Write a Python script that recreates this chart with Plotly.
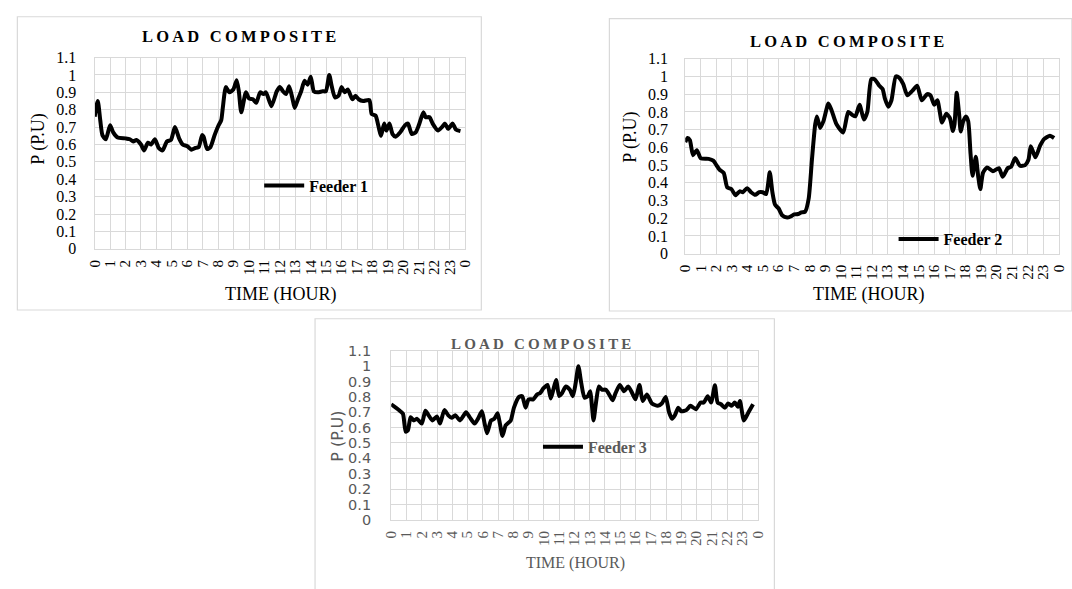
import plotly.graph_objects as go

# ---------------- data ----------------
hour_ticks = list(range(25))
hour_labels = [str(h) for h in range(24)] + ["0"]
p_ticks = [round(0.1 * i, 1) for i in range(12)]
p_labels = ["0", "0.1", "0.2", "0.3", "0.4", "0.5", "0.6", "0.7", "0.8", "0.9", "1", "1.1"]

f1_t = [0.0, 0.2, 0.36, 0.5, 0.72, 1.0, 1.2, 1.49, 2.0, 2.28, 2.5, 2.7, 3.0, 3.2, 3.45, 3.66,
        3.9, 4.15, 4.4, 4.68, 4.94, 5.2, 5.47, 5.7, 6.0, 6.26, 6.53, 6.74, 6.96, 7.06, 7.28,
        7.5, 7.77, 8.0, 8.2, 8.3, 8.5, 8.72, 8.98, 9.2, 9.34, 9.5, 9.8, 10.0, 10.25, 10.47,
        10.72, 10.94, 11.1, 11.45, 11.8, 12.0, 12.2, 12.4, 12.6, 12.8, 12.96, 13.17, 13.38,
        13.6, 13.8, 14.0, 14.2, 14.45, 14.77, 14.98, 15.2, 15.36, 15.57, 15.8, 16.0, 16.2,
        16.4, 16.7, 16.9, 17.1, 17.4, 17.8, 17.95, 18.2, 18.4, 18.55, 18.76, 18.9, 19.1, 19.3,
        19.5, 19.8, 20.1, 20.3, 20.55, 20.8, 21.0, 21.3, 21.45, 21.7, 21.9, 22.25, 22.5, 22.7,
        22.9, 23.2, 23.4, 23.7]
f1_p = [0.76, 0.85, 0.74, 0.654, 0.63, 0.71, 0.67, 0.64, 0.635, 0.63, 0.617, 0.626, 0.60, 0.566,
        0.61, 0.60, 0.63, 0.58, 0.566, 0.617, 0.626, 0.70, 0.635, 0.60, 0.59, 0.57, 0.58, 0.585,
        0.654, 0.645, 0.574, 0.585, 0.654, 0.705, 0.74, 0.81, 0.93, 0.90, 0.916, 0.97, 0.906,
        0.785, 0.90, 0.865, 0.86, 0.84, 0.90, 0.89, 0.90, 0.82, 0.906, 0.93, 0.906, 0.89, 0.935,
        0.87, 0.81, 0.86, 0.906, 0.966, 0.944, 0.99, 0.906, 0.90, 0.906, 0.906, 1.0, 0.935, 0.87,
        0.88, 0.93, 0.90, 0.916, 0.86, 0.88, 0.86, 0.85, 0.855, 0.775, 0.766, 0.70, 0.65, 0.72,
        0.68, 0.72, 0.66, 0.645, 0.67, 0.71, 0.72, 0.66, 0.67, 0.71, 0.785, 0.757, 0.757, 0.72,
        0.68, 0.70, 0.72, 0.69, 0.72, 0.686, 0.677]

f2_t = [0.0, 0.15, 0.3, 0.5, 0.74, 1.0, 1.5, 1.8, 2.0, 2.2, 2.47, 2.7, 2.96, 3.23, 3.5, 3.7,
        3.97, 4.23, 4.5, 4.75, 4.97, 5.2, 5.43, 5.6, 5.77, 6.0, 6.24, 6.55, 6.77, 7.0, 7.25,
        7.46, 7.7, 7.93, 8.14, 8.35, 8.46, 8.67, 8.88, 9.2, 9.4, 9.72, 10.15, 10.47, 10.72,
        10.93, 11.2, 11.48, 11.7, 11.95, 12.16, 12.47, 12.68, 12.83, 13.04, 13.25, 13.53,
        13.74, 14.0, 14.27, 14.6, 14.9, 15.2, 15.54, 15.75, 16.0, 16.2, 16.5, 16.77, 17.0,
        17.2, 17.3, 17.44, 17.6, 17.7, 17.86, 18.03, 18.18, 18.33, 18.46, 18.67, 18.82, 18.96,
        19.13, 19.39, 19.77, 20.15, 20.4, 20.72, 20.93, 21.2, 21.5, 21.84, 22.05, 22.2, 22.5,
        22.8, 23.07, 23.43, 23.7]
f2_p = [0.63, 0.653, 0.64, 0.556, 0.584, 0.538, 0.535, 0.525, 0.50, 0.474, 0.456, 0.374, 0.365,
        0.33, 0.352, 0.347, 0.37, 0.347, 0.332, 0.347, 0.347, 0.337, 0.46, 0.347, 0.277, 0.255,
        0.215, 0.204, 0.21, 0.222, 0.224, 0.233, 0.237, 0.31, 0.53, 0.73, 0.775, 0.71, 0.748,
        0.848, 0.81, 0.73, 0.684, 0.80, 0.784, 0.775, 0.84, 0.757, 0.80, 0.985, 0.985, 0.948,
        0.93, 0.875, 0.83, 0.866, 1.0, 0.994, 0.958, 0.894, 0.92, 0.948, 0.866, 0.90, 0.894,
        0.84, 0.866, 0.74, 0.79, 0.766, 0.693, 0.73, 0.908, 0.784, 0.69, 0.748, 0.775, 0.748,
        0.565, 0.44, 0.547, 0.438, 0.365, 0.456, 0.487, 0.465, 0.483, 0.434, 0.483, 0.49, 0.54,
        0.496, 0.50, 0.53, 0.606, 0.544, 0.61, 0.648, 0.666, 0.653]

f3_t = [0.0, 0.3, 0.56, 0.77, 0.95, 1.1, 1.27, 1.48, 1.7, 2.0, 2.24, 2.45, 2.7, 2.99, 3.2, 3.48,
        3.74, 3.96, 4.2, 4.5, 4.7, 4.9, 5.14, 5.46, 5.68, 5.94, 6.1, 6.28, 6.54, 6.75, 6.97,
        7.12, 7.29, 7.5, 7.83, 8.04, 8.37, 8.58, 8.8, 9.0, 9.3, 9.55, 9.76, 9.98, 10.24, 10.45,
        10.62, 10.8, 11.0, 11.16, 11.44, 11.7, 11.9, 12.08, 12.26, 12.45, 12.66, 12.88, 13.03,
        13.25, 13.4, 13.6, 13.8, 14.06, 14.28, 14.5, 14.7, 14.97, 15.25, 15.52, 15.78, 16.0,
        16.26, 16.47, 16.75, 17.08, 17.46, 17.72, 17.98, 18.2, 18.4, 18.58, 18.8, 19.0, 19.33,
        19.6, 19.96, 20.26, 20.47, 20.73, 20.95, 21.2, 21.38, 21.6, 21.85, 22.07, 22.3, 22.5,
        22.7, 22.84, 23.1, 23.4, 23.7]
f3_p = [0.752, 0.73, 0.71, 0.69, 0.573, 0.584, 0.668, 0.647, 0.657, 0.626, 0.71, 0.68, 0.647,
        0.672, 0.626, 0.714, 0.68, 0.664, 0.68, 0.647, 0.672, 0.70, 0.668, 0.626, 0.657, 0.706,
        0.636, 0.563, 0.647, 0.657, 0.693, 0.626, 0.546, 0.615, 0.647, 0.73, 0.80, 0.805, 0.73,
        0.784, 0.784, 0.815, 0.826, 0.857, 0.878, 0.79, 0.847, 0.91, 0.805, 0.82, 0.868, 0.847,
        0.805, 0.889, 1.0, 0.889, 0.795, 0.805, 0.837, 0.647, 0.752, 0.868, 0.847, 0.847, 0.815,
        0.778, 0.826, 0.878, 0.837, 0.868, 0.826, 0.784, 0.878, 0.773, 0.815, 0.757, 0.742,
        0.757, 0.80, 0.70, 0.657, 0.68, 0.73, 0.706, 0.714, 0.742, 0.72, 0.763, 0.763, 0.805,
        0.763, 0.875, 0.763, 0.752, 0.73, 0.757, 0.742, 0.763, 0.736, 0.773, 0.647, 0.70, 0.752]

series_names = ["Feeder 1", "Feeder 2", "Feeder 3"]
chart_title = "LOAD COMPOSITE"
x_title = "TIME (HOUR)"
y_title = "P (P.U)"

# ---------------- layout helpers ----------------
W, H = 1072, 589


def px(x):
    return x / W


def py(y):
    return 1 - y / H


SERIF = "Liberation Serif, Times New Roman, serif"
SANS = "DejaVu Sans, Liberation Sans, Arial, sans-serif"
GRID = "#d9d9d9"
GRAY = "#595959"

fig = go.Figure()

panels = [
    dict(t=f1_t, p=f1_p, ax="", dom_x=(88, 464), dom_y=(51, 248), leg=(255, 183),
         title=(236.5, 29.5), title_size=16.5, title_color="#000000",
         xt=(277, 295), yt=(31, 135), tick_color="#000000", ytick_font=SERIF, ytick_size=16,
         ytitle_font=SERIF, ytitle_size=18, standoff=14, col="#000000"),
    dict(t=f2_t, p=f2_p, ax="2", dom_x=(687.5, 1066.7), dom_y=(52.3, 253), leg=(899, 238),
         title=(853, 34.3), title_size=16.5, title_color="#000000",
         xt=(874, 295), yt=(632, 133), tick_color="#000000", ytick_font=SERIF, ytick_size=16,
         ytitle_font=SERIF, ytitle_size=18, standoff=13, col="#000000"),
    dict(t=f3_t, p=f3_p, ax="3", dom_x=(389, 761), dom_y=(353, 527), leg=(538, 452),
         title=(543.5, 345.7), title_size=15, title_color=GRAY,
         xt=(576, 571.7), yt=(334.5, 441), tick_color=GRAY, ytick_font=SANS, ytick_size=14.5,
         ytitle_font=SANS, ytitle_size=16, standoff=16, col=GRAY),
]

for i, pn in enumerate(panels):
    ax = pn["ax"]
    leg_name = "legend" if i == 0 else f"legend{i + 1}"
    fig.add_trace(go.Scatter(
        x=pn["t"], y=pn["p"], mode="lines", name=series_names[i],
        line=dict(color="#000000", width=4, shape="spline", smoothing=0.6),
        xaxis="x" + ax, yaxis="y" + ax, legend=leg_name, showlegend=True,
    ))
    fig.layout[leg_name] = dict(
        x=px(pn["leg"][0]), y=py(pn["leg"][1]), xanchor="left", yanchor="middle",
        bgcolor="rgba(0,0,0,0)", borderwidth=0,
        font=dict(family=SERIF, size=16, color=pn["col"], weight="bold"),
        itemwidth=40,
    )
    xa = dict(
        domain=[px(pn["dom_x"][0]), px(pn["dom_x"][1])], range=[0, 24],
        tickmode="array", tickvals=hour_ticks, ticktext=hour_labels, tickangle=-90,
        showgrid=True, gridcolor=GRID, gridwidth=1.3, zeroline=False,
        showline=True, linecolor=GRID, linewidth=1.3, mirror=True,
        tickfont=dict(family=SERIF, size=15, color=pn["tick_color"]),
        anchor="y" + ax, fixedrange=True, ticks="", ticklabelstandoff=4,
    )
    ya = dict(
        domain=[py(pn["dom_y"][1]), py(pn["dom_y"][0])], range=[0, 1.1],
        tickmode="array", tickvals=p_ticks, ticktext=p_labels,
        showgrid=True, gridcolor=GRID, gridwidth=1.3, zeroline=False,
        showline=True, linecolor=GRID, linewidth=1.3, mirror=True,
        tickfont=dict(family=pn["ytick_font"], size=pn["ytick_size"], color=pn["tick_color"]),
        anchor="x" + ax, fixedrange=True, ticks="", ticklabelstandoff=pn["standoff"],
    )
    fig.layout["xaxis" + ax] = xa
    fig.layout["yaxis" + ax] = ya

    fig.add_annotation(
        x=px(pn["title"][0]), y=py(pn["title"][1]), xref="paper", yref="paper",
        text=f'<span style="letter-spacing:3.2px">{chart_title}</span>', showarrow=False,
        xanchor="center", yanchor="middle",
        font=dict(family=SERIF, size=pn["title_size"], color=pn["title_color"], weight="bold"),
    )
    fig.add_annotation(
        x=px(pn["xt"][0]), y=py(pn["xt"][1]), xref="paper", yref="paper",
        text=x_title, showarrow=False, xanchor="center", yanchor="middle",
        font=dict(family=SERIF, size=18 if i < 2 else 16, color=pn["col"] if i == 2 else "#000000"),
    )
    fig.add_annotation(
        x=px(pn["yt"][0]), y=py(pn["yt"][1]), xref="paper", yref="paper",
        text=y_title, showarrow=False, xanchor="center", yanchor="middle", textangle=-90,
        font=dict(family=pn["ytitle_font"], size=pn["ytitle_size"], color=pn["col"]),
    )

# chart frames
frames = [(9.5, 9, 480.5, 311), (610.5, 11, 1080, 312), (311.7, 320, 778, 600)]
for x0, y0, x1, y1 in frames:
    fig.add_shape(type="rect", xref="paper", yref="paper",
                  x0=px(x0), x1=px(x1), y0=py(y1), y1=py(y0),
                  line=dict(color="#d9d9d9", width=1.2), fillcolor="rgba(0,0,0,0)", layer="below")

fig.update_layout(
    width=W, height=H, autosize=False,
    margin=dict(l=0, r=0, t=0, b=0),
    paper_bgcolor="#ffffff", plot_bgcolor="#ffffff",
    showlegend=True,
)

fig.write_html("out.html")
